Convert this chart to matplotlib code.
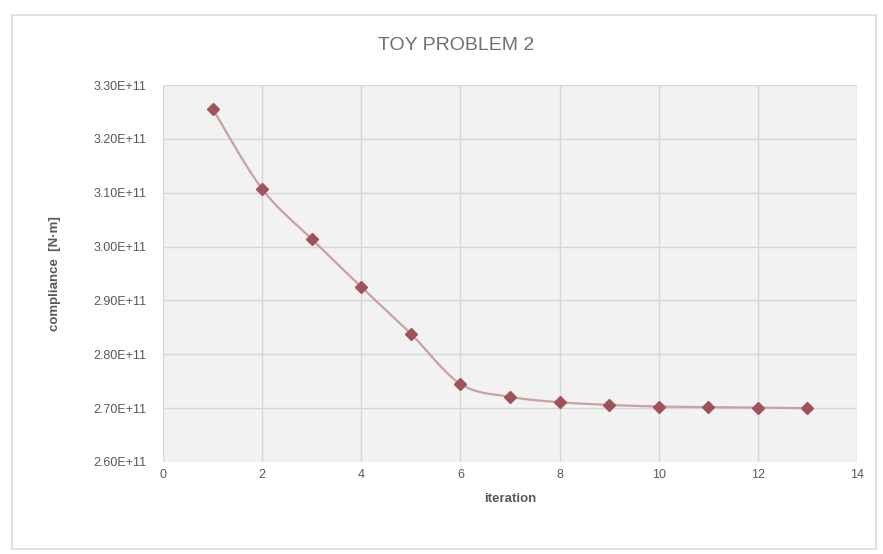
import numpy as np
import matplotlib.pyplot as plt
from matplotlib.patches import Rectangle

# data
iterations = [1, 2, 3, 4, 5, 6, 7, 8, 9, 10, 11, 12, 13]
compliance = [3.256e11, 3.107e11, 3.014e11, 2.925e11, 2.838e11, 2.745e11, 2.721e11,
              2.711e11, 2.706e11, 2.703e11, 2.702e11, 2.701e11, 2.700e11]
x_ticks = [0, 2, 4, 6, 8, 10, 12, 14]
y_ticks = [2.60e11, 2.70e11, 2.80e11, 2.90e11, 3.00e11, 3.10e11, 3.20e11, 3.30e11]


def smooth_curve(xs, ys, n=20):
    # Catmull-Rom style smoothing, like the Excel "smoothed line" option
    xs = np.asarray(xs, float)
    ys = np.asarray(ys, float)
    px = np.concatenate([[xs[0]], xs, [xs[-1]]])
    py = np.concatenate([[ys[0]], ys, [ys[-1]]])
    out_x, out_y = [], []
    t = np.linspace(0, 1, n)
    for i in range(1, len(px) - 2):
        for p, out in ((px, out_x), (py, out_y)):
            p0, p1, p2, p3 = p[i - 1], p[i], p[i + 1], p[i + 2]
            out.extend(0.5 * ((2 * p1) + (-p0 + p2) * t
                              + (2 * p0 - 5 * p1 + 4 * p2 - p3) * t ** 2
                              + (-p0 + 3 * p1 - 3 * p2 + p3) * t ** 3))
    return out_x, out_y


plt.rcParams['font.family'] = ['Liberation Sans Narrow', 'Liberation Sans', 'DejaVu Sans']

fig = plt.figure(figsize=(8.83, 5.54), dpi=100)
W, H = 883, 554
ax = fig.add_axes([163 / W, 1 - 462 / H, (857 - 163) / W, (462 - 85) / H])

# outer chart border
fig.patches.append(Rectangle((12 / W, 1 - 549 / H), (876 - 12) / W, (549 - 15) / H,
                             transform=fig.transFigure, fill=False,
                             edgecolor='#dcdcdc', linewidth=1.2))

ax.set_facecolor('#f2f2f2')
for s in ax.spines.values():
    s.set_visible(False)
ax.grid(True, color='#d6d6d6', linewidth=1)
ax.set_axisbelow(True)

sx, sy = smooth_curve(iterations, compliance)
ax.plot(sx, sy, color='#c9a0a3', linewidth=1.6, zorder=2)
ax.plot(iterations, compliance, linestyle='none', marker='D', markersize=6,
        color='#a0525a', zorder=3)

ax.set_xlim(0, 14)
ax.set_ylim(2.60e11, 3.30e11)
ax.set_xticks(x_ticks)
ax.set_yticks(y_ticks)
ax.set_yticklabels(['%.2fE+11' % (v / 1e11) for v in y_ticks])
ax.tick_params(length=0, labelsize=9, colors='#595959')
ax.tick_params(axis='y', pad=12)
ax.tick_params(axis='x', pad=5)

ax.set_xlabel('iteration', fontsize=9.5, fontweight='bold', color='#595959', labelpad=9)
ax.set_ylabel('compliance  [N·m]', fontsize=9.5, fontweight='bold', color='#595959', labelpad=23)
fig.text(456 / W, 1 - 45 / H, 'TOY PROBLEM 2', ha='center', va='center',
         fontsize=14, color='#707070')

fig.savefig('out.png', dpi=100)
